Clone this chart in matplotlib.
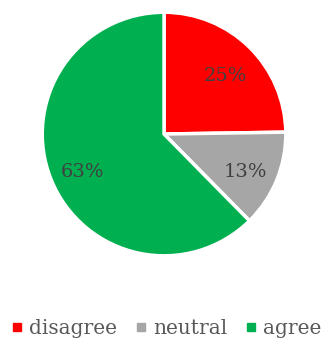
import matplotlib
matplotlib.use("Agg")
import matplotlib.pyplot as plt
from matplotlib.lines import Line2D
import numpy as np

labels = ["disagree", "neutral", "agree"]
values = [25, 13, 63]
colors = ["#ff0000", "#a6a6a6", "#00b050"]

plt.rcParams["font.family"] = ["DejaVu Serif"]

fig = plt.figure(figsize=(3.29, 3.45), dpi=100)
ax = fig.add_axes([0.1246, 0.255, 0.748, 0.713])

wedges, texts = ax.pie(values, colors=colors, startangle=90, counterclock=False,
                       wedgeprops=dict(edgecolor="white", linewidth=2.5))
ax.set_aspect("equal")
ax.set_xlim(-1.01, 1.01)
ax.set_ylim(-1.01, 1.01)

# percentage labels inside each slice
for w, v in zip(wedges, values):
    ang = np.deg2rad((w.theta1 + w.theta2) / 2)
    ax.text(0.72 * np.cos(ang), 0.72 * np.sin(ang) - 0.04, f"{v}%", ha="center", va="center",
            fontsize=14, color="#404040")

handles = [Line2D([], [], marker="s", linestyle="none", markersize=6,
                  markerfacecolor=c, markeredgecolor=c) for c in colors]
fig.legend(handles, labels, loc="center", bbox_to_anchor=(0.505, 0.048), ncol=3,
           frameon=False, fontsize=14.5, labelcolor="#595959", handlelength=0.6,
           handletextpad=0.3, columnspacing=0.9)

fig.savefig("out.png", dpi=100)
